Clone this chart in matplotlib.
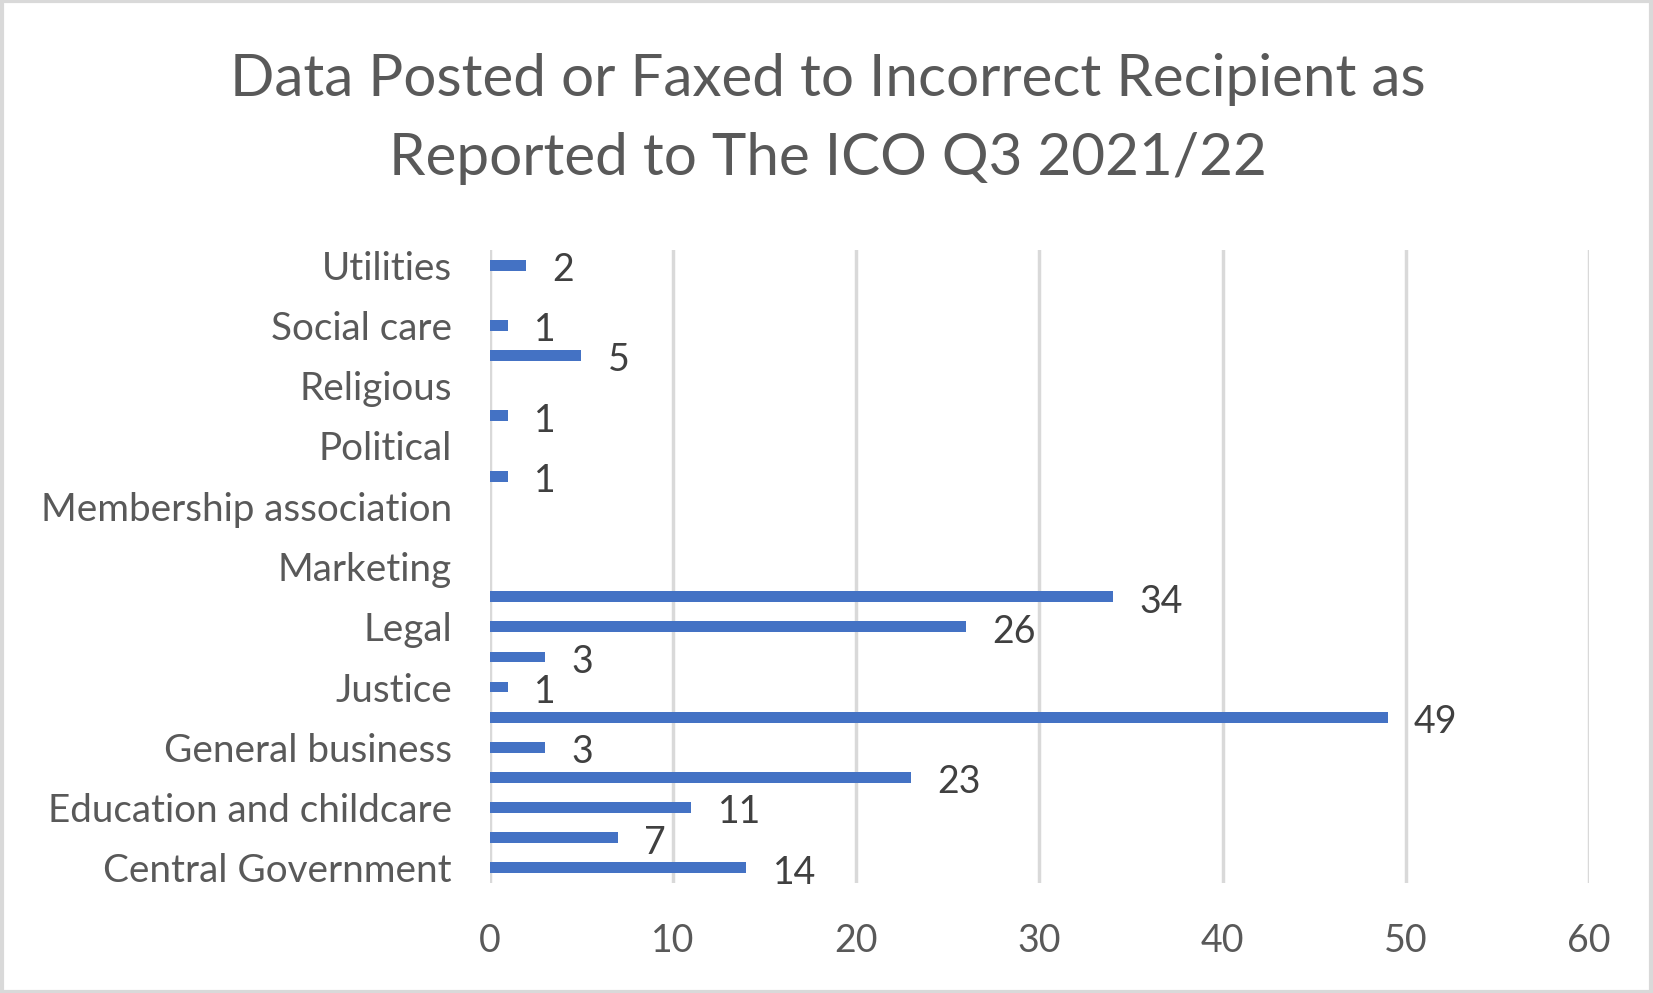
import numpy as np
import matplotlib
matplotlib.use("Agg")
import matplotlib.pyplot as plt
from matplotlib.patches import Rectangle

categories = [
    "Central Government", "Charitable and voluntary", "Education and childcare",
    "Finance, insurance and credit", "General business", "Health", "Justice",
    "Land or property services", "Legal", "Local government", "Marketing", "Media",
    "Membership association", "Online technology and telecoms", "Political",
    "Regulators", "Religious", "Retail and manufacture", "Social care",
    "Transport and leisure", "Utilities",
]
values = [14, 7, 11, 23, 3, 49, 1, 3, 26, 34, np.nan, np.nan,
          np.nan, 1, np.nan, 1, np.nan, 5, 1, np.nan, 2]
xticks = [0, 10, 20, 30, 40, 50, 60]
title = "Data Posted or Faxed to Incorrect Recipient as\nReported to The ICO Q3 2021/22"

plt.rcParams['font.family'] = ['Lato', 'DejaVu Sans']

fig = plt.figure(figsize=(16.53, 9.93), dpi=100)
ax = fig.add_axes([0.2962, 0.1108, 0.9614 - 0.2962, 0.7482 - 0.1108])

y = np.arange(len(categories))
vals = np.array(values, dtype=float)
ax.barh(y, np.nan_to_num(vals), height=0.36, color="#4472C4", zorder=3)

for yi, v in zip(y, vals):
    if not np.isnan(v):
        ax.annotate(f"{int(v)}", xy=(v, yi), xytext=(19, -3.5), textcoords="offset points",
                    ha="left", va="center", fontsize=27, color="#404040")

ax.set_xlim(0, 60)
ax.set_ylim(-0.5, len(categories) - 0.5)
ax.set_xticks(xticks)
ax.set_xticklabels([str(t) for t in xticks], fontsize=27, color="#595959")
ax.set_yticks(y[::2])
ax.set_yticklabels(categories[::2], fontsize=27.8, color="#595959")
ax.tick_params(axis="both", length=0)
ax.tick_params(axis="y", pad=27)
ax.tick_params(axis="x", pad=29)
ax.grid(axis="x", color="#D9D9D9", linewidth=2.5, zorder=0)
for s in ax.spines.values():
    s.set_visible(False)

fig.text(0.5006, 0.880, title, ha="center", va="center", fontsize=42,
         color="#595959", linespacing=1.6)

fig.patches.append(Rectangle((0.001, 0.0015), 0.998, 0.997, transform=fig.transFigure,
                             fill=False, edgecolor="#D9D9D9", linewidth=3))

fig.savefig("out.png", dpi=100)
